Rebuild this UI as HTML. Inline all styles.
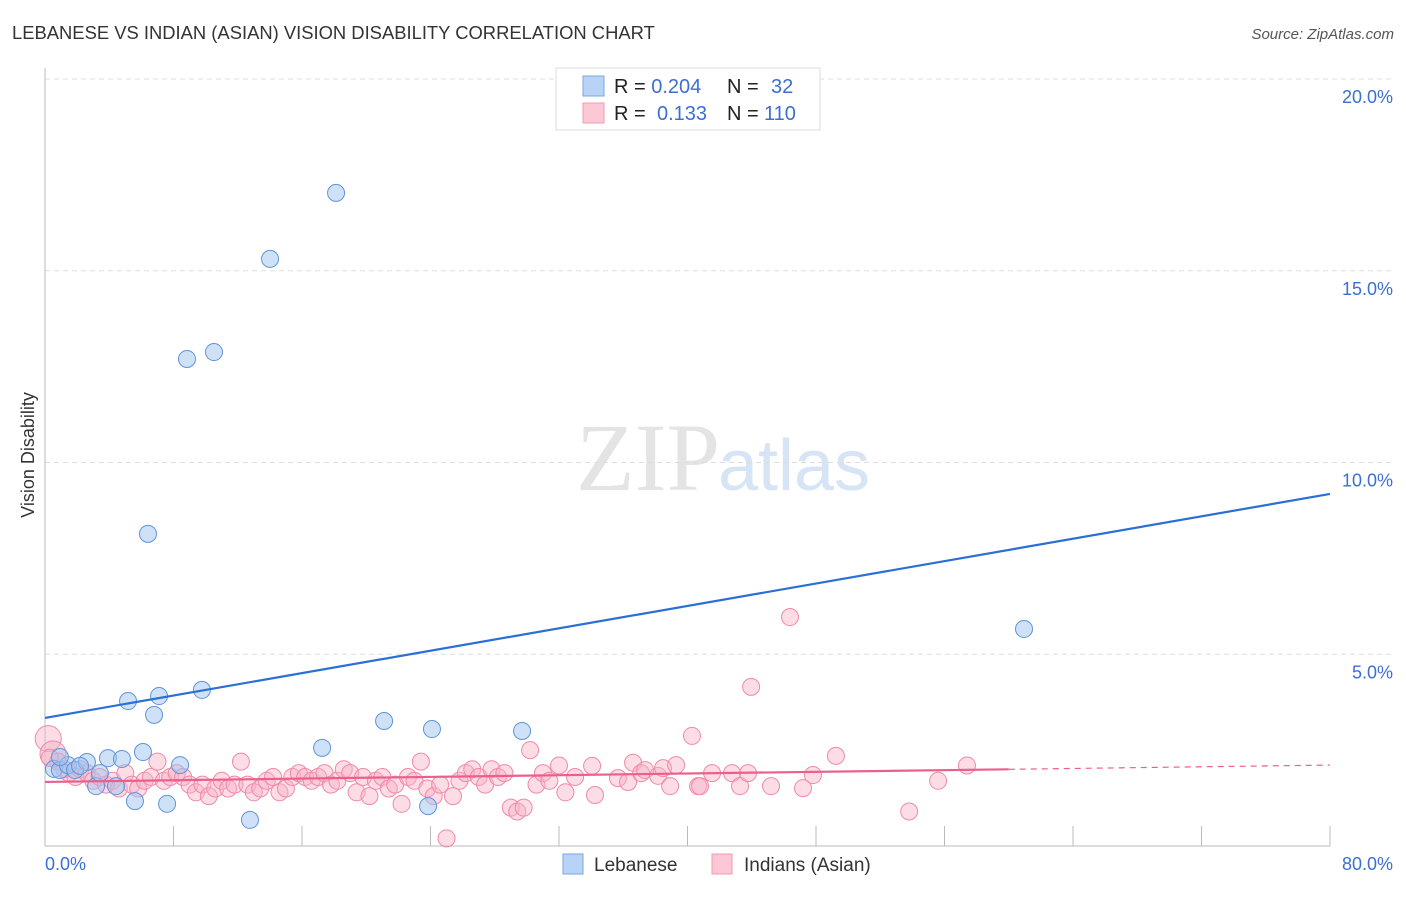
<!DOCTYPE html>
<html><head><meta charset="utf-8"><style>
body{margin:0;background:#fff;font-family:"Liberation Sans",sans-serif;}
</style></head><body>
<svg width="1406" height="892" xmlns="http://www.w3.org/2000/svg">
<text x="12" y="39" font-size="18.4" fill="#333">LEBANESE VS INDIAN (ASIAN) VISION DISABILITY CORRELATION CHART</text>
<text x="1394" y="39" font-size="15" fill="#555" font-style="italic" text-anchor="end">Source: ZipAtlas.com</text>
<text x="720" y="490" font-size="96" fill="#e4e4e4" text-anchor="end" font-family="Liberation Serif,serif">ZIP</text>
<text x="718" y="490" font-size="72" fill="#d6e4f6">atlas</text>
<g id="grid"></g>
<line x1="45" y1="68" x2="45" y2="846" stroke="#bbb"/>
<line x1="45" y1="846" x2="1330" y2="846" stroke="#bbb"/>
<g id="pts"></g>
<g id="lines"></g>
<text transform="translate(34,455) rotate(-90)" font-size="18" fill="#333" text-anchor="middle">Vision Disability</text>
<text x="45" y="870" font-size="18" fill="#3b6fd4">0.0%</text>
<text x="1393" y="870" font-size="18" fill="#3b6fd4" text-anchor="end">80.0%</text>
<g>
<rect x="556" y="68" width="264" height="62" fill="#fff" stroke="#ddd"/>
<rect x="583" y="76" width="21" height="20" fill="#b8d3f5" stroke="#7aa7e3"/>
<rect x="583" y="103" width="21" height="20" fill="#fcc8d6" stroke="#f09ab4"/>
<text x="614" y="93" font-size="20" fill="#222">R = <tspan fill="#3b6fd4">0.204</tspan><tspan x="727">N =</tspan><tspan x="771" fill="#3b6fd4">32</tspan></text>
<text x="614" y="120" font-size="20" fill="#222">R = <tspan x="657" fill="#3b6fd4">0.133</tspan><tspan x="727">N =</tspan><tspan x="764" fill="#3b6fd4">110</tspan></text>
</g>
<g>
<rect x="563" y="854" width="20" height="20" fill="#b8d3f5" stroke="#7aa7e3"/>
<text x="594" y="871" font-size="19" fill="#333">Lebanese</text>
<rect x="712" y="854" width="20" height="20" fill="#fcc8d6" stroke="#f09ab4"/>
<text x="744" y="871" font-size="19" fill="#333">Indians (Asian)</text>
</g>
</svg>
<script>
const blueX=[0.56,0.93,1.43,1.87,2.61,3.18,3.42,3.92,4.42,4.79,5.17,5.60,6.10,6.41,6.79,7.10,7.60,8.41,8.84,9.77,10.52,12.76,14.01,17.25,18.12,21.11,23.85,24.09,29.70,60.95,0.93,2.18];
const blueY=[2.01,1.98,2.11,1.98,2.19,1.56,1.90,2.29,1.56,2.27,3.78,1.17,2.45,8.14,3.42,3.91,1.10,2.11,12.70,4.07,12.88,0.68,15.31,2.56,17.03,3.26,1.04,3.05,3.00,5.66,2.32,2.09];
const pinkX=[0.2,0.5,0.8,1.2,1.5,1.9,2.2,2.6,3.0,3.4,3.8,4.2,4.6,5.0,5.4,5.8,6.2,6.6,7.0,7.4,7.8,8.2,8.6,9.0,9.4,9.8,10.2,10.6,11.0,11.4,11.8,12.2,12.6,13.0,13.4,13.8,14.2,14.6,15.0,15.4,15.8,16.2,16.6,17.0,17.4,17.8,18.2,18.6,19.0,19.4,19.8,20.2,20.6,21.0,21.4,21.8,22.2,22.6,23.0,23.4,23.8,24.2,24.6,25.0,25.4,25.8,26.2,26.6,27.0,27.4,27.8,28.2,28.6,29.0,29.4,29.8,30.2,30.6,31.0,31.4,32.0,32.4,33.0,34.06,34.24,35.67,36.30,36.61,37.11,37.36,38.17,38.48,38.92,39.29,40.28,40.66,40.78,41.53,42.77,43.27,43.77,43.96,45.20,46.38,47.19,47.81,49.24,53.8,55.6,57.4,0.3];
const pinkY=[2.8,2.4,2.2,2.0,1.9,1.8,2.0,1.9,1.7,1.8,1.6,1.7,1.5,1.9,1.6,1.5,1.7,1.8,2.2,1.7,1.8,1.9,1.8,1.6,1.4,1.6,1.3,1.5,1.7,1.5,1.6,2.2,1.6,1.4,1.5,1.7,1.8,1.4,1.5,1.8,1.9,1.8,1.7,1.8,1.9,1.6,1.7,2.0,1.9,1.4,1.8,1.3,1.7,1.8,1.5,1.6,1.1,1.8,1.7,2.2,1.5,1.3,1.6,0.2,1.3,1.7,1.9,2.0,1.8,1.6,2.0,1.8,1.9,1.0,0.9,1.0,2.5,1.6,1.9,1.7,2.1,1.4,1.8,2.09,1.33,1.77,1.67,2.17,1.90,1.98,1.83,2.03,1.56,2.11,2.87,1.56,1.56,1.90,1.90,1.56,1.90,4.15,1.56,5.97,1.51,1.85,2.35,0.9,1.7,2.1,2.3];
const yTicks=[5,10,15,20];
const xTicks=[8,16,24,32,40,48,56,64,72,80];
const blueTrend=[3.34,9.18];
const pinkTrend=[1.67,2.11];
const sx=v=>45+v/80*1285, sy=v=>846-v*38.35;
const NS='http://www.w3.org/2000/svg';
function mk(t,a,p){const e=document.createElementNS(NS,t);for(const k in a)e.setAttribute(k,a[k]);p.appendChild(e);return e;}
const grid=document.getElementById('grid');
yTicks.forEach(v=>{
 const l=mk('line',{x1:45,x2:1395,y1:sy(v),y2:sy(v),stroke:'#ddd','stroke-dasharray':'5,4'},grid);
 
 
 const t=mk('text',{x:1393,y:sy(v)+24,'font-size':18,fill:'#3b6fd4','text-anchor':'end'},grid);
 t.textContent=v.toFixed(1)+'%';
 
 
});
xTicks.forEach(v=>{
 const l=mk('line',{x1:sx(v),x2:sx(v),y1:826,y2:846,stroke:'#bbb'},grid);
 
 
});
const pts=document.getElementById('pts');
pinkX.forEach((x,i)=>{
 const r=i<2?13:8.5;
 const c=mk('circle',{cx:sx(x),cy:sy(pinkY[i]),r:r,fill:'rgba(248,178,198,0.45)',stroke:'#f08aa8','stroke-width':1},pts);
 
 
});
blueX.forEach((x,i)=>{
 const c=mk('circle',{cx:sx(x),cy:sy(blueY[i]),r:8.5,fill:'rgba(160,196,240,0.5)',stroke:'#5f94dc','stroke-width':1},pts);
 
 
});
const lines=document.getElementById('lines');
const bl=mk('line',{x1:sx(0),y1:sy(blueTrend[0]),x2:sx(80),y2:sy(blueTrend[1]),stroke:'#2a6fd6','stroke-width':2.2},lines);


const pm=pinkTrend[0]+(pinkTrend[1]-pinkTrend[0])*60/80;
const pl=mk('line',{x1:sx(0),y1:sy(pinkTrend[0]),x2:sx(60),y2:sy(pm),stroke:'#ec5f8c','stroke-width':2.2},lines);


const pd=mk('line',{x1:sx(60),y1:sy(pm),x2:sx(80),y2:sy(pinkTrend[1]),stroke:'#ec5f8c','stroke-width':1.2,'stroke-dasharray':'6,5'},lines);


</script>
</body></html>
